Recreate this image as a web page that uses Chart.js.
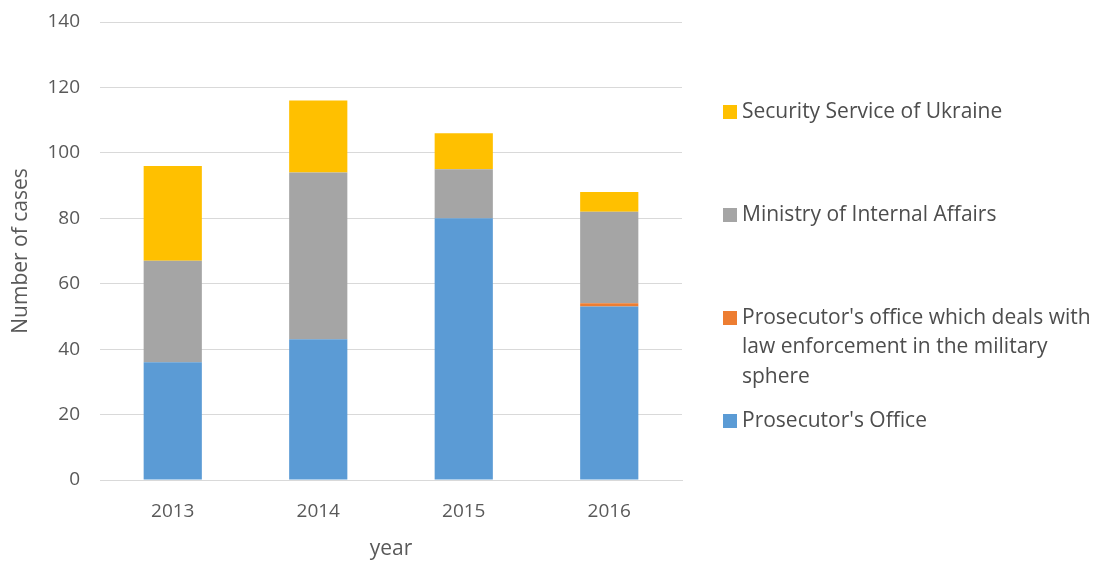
<!DOCTYPE html>
<html>
<head>
<meta charset="utf-8">
<script src="https://cdn.jsdelivr.net/npm/chart.js@4.4.1/dist/chart.umd.min.js"></script>
<style>
  html, body { margin: 0; padding: 0; background: #fff; }
  #wrap { width: 1100px; height: 562px; position: relative; }
</style>
</head>
<body>
<div id="wrap"><canvas id="grafica"></canvas></div>
<script>
const years = ['2013', '2014', '2015', '2016'];
const prosecutorsOffice = [36, 43, 80, 53];
const militaryProsecutor = [0, 0, 0, 1];
const internalAffairs = [31, 51, 15, 28];
const securityService = [29, 22, 11, 6];
const yTicks = [0, 20, 40, 60, 80, 100, 120, 140];

const fuente = "'Open Sans', 'Liberation Sans', sans-serif";
const gris = '#595959';

// leyenda a la derecha, como en Excel (orden inverso, texto partido)
const leyendaDerecha = {
    id: 'leyendaDerecha',
    afterDraw(chart) {
        const ctx = chart.ctx;
        const x = 723, inicio = 112, paso = 103, linea = 29.5;
        const lineas = [
            ['Security Service of Ukraine'],
            ['Ministry of Internal Affairs'],
            ["Prosecutor's office which deals with", 'law enforcement in the military', 'sphere'],
            ["Prosecutor's Office"]
        ];
        const ds = chart.data.datasets.slice().reverse();
        ctx.save();
        ctx.font = '21px ' + fuente;
        ctx.textBaseline = 'middle';
        ds.forEach(function(d, i){
            const y = inicio + i * paso;
            ctx.fillStyle = d.backgroundColor;
            ctx.fillRect(x, y - 7, 14, 14);
            ctx.fillStyle = '#4d4d4d';
            lineas[i].forEach(function(t, j){
                ctx.fillText(t, x + 19, y + j * linea);
            });
        });
        ctx.restore();
    }
};

const ctx = document.getElementById('grafica').getContext('2d');
const grafica = new Chart(ctx, {
    type: 'bar',
    data: {
        labels: years,
        datasets: [
            { label: "Prosecutor's Office", data: prosecutorsOffice, backgroundColor: '#5B9BD5' },
            { label: "Prosecutor's office which deals with law enforcement in the military sphere", data: militaryProsecutor, backgroundColor: '#ED7D31' },
            { label: 'Ministry of Internal Affairs', data: internalAffairs, backgroundColor: '#A5A5A5' },
            { label: 'Security Service of Ukraine', data: securityService, backgroundColor: '#FFC000' }
        ]
    },
    options: {
        responsive: true,
        maintainAspectRatio: false,
        animation: false,
        datasets: { bar: { barPercentage: 0.8, categoryPercentage: 0.5, borderWidth: 0 } },
        layout: { padding: { top: 22, right: 418, left: 4, bottom: 0 } },
        plugins: {
            legend: { display: false },
            tooltip: { enabled: false }
        },
        scales: {
            x: {
                stacked: true,
                grid: { display: false, drawTicks: false },
                border: { color: '#D9D9D9', width: 1 },
                ticks: { color: gris, font: { family: fuente, size: 19 }, padding: 20 },
                title: { display: true, text: 'year', color: gris, font: { family: fuente, size: 21 }, padding: { top: 6, bottom: 0 } },
                afterFit: function(s){ s.height = 82; }
            },
            y: {
                stacked: true,
                min: 0,
                max: 140,
                afterBuildTicks: function(s){ s.ticks = yTicks.map(function(v){ return { value: v }; }); },
                grid: { color: '#D9D9D9', lineWidth: 1, drawTicks: false },
                border: { display: false },
                ticks: { color: gris, font: { family: fuente, size: 19 }, padding: 20 },
                title: { display: true, text: 'Number of cases', color: gris, font: { family: fuente, size: 21 }, padding: { top: 4, bottom: 0 } },
                afterFit: function(s){ s.width = 96; s.paddingTop = 0; s.paddingBottom = 0; }
            }
        }
    },
    plugins: [leyendaDerecha]
});
</script>
</body>
</html>
